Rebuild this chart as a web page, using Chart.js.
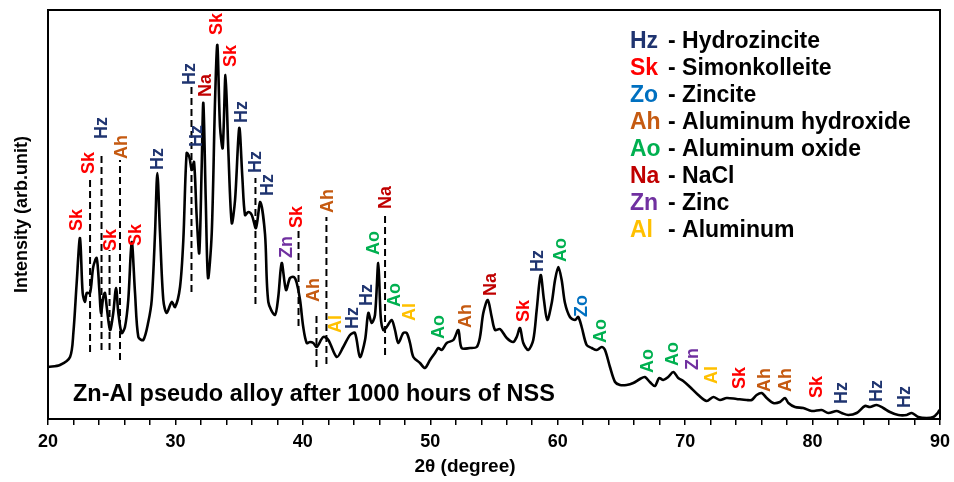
<!DOCTYPE html>
<html>
<head>
<meta charset="utf-8">
<script src="https://cdn.jsdelivr.net/npm/chart.js@4.4.1/dist/chart.umd.min.js"></script>
<style>
  html, body { margin: 0; padding: 0; background: #fff; }
  #wrap { width: 954px; height: 482px; }
</style>
</head>
<body>
<div id="wrap"><canvas id="xrdChart" width="954" height="482"></canvas></div>
<script>
// XRD pattern (2θ in degrees, intensity in arbitrary units)
var twoTheta = [
  20.02, 20.94, 21.73, 21.99, 22.25, 22.51, 22.72, 22.90, 23.04, 23.30,
  23.55, 23.82, 24.03, 24.16, 24.34, 24.47, 24.61, 24.87, 25.12, 25.34,
  25.52, 25.78, 26.04, 26.30, 26.57, 26.83, 27.09, 27.48, 27.87, 28.14,
  28.40, 28.58, 28.79, 29.05, 29.31, 29.71, 29.97, 30.36, 30.62, 30.88,
  31.09, 31.28, 31.46, 31.67, 31.87, 32.06, 32.19, 32.38, 32.56, 32.85,
  33.11, 33.29, 33.50, 33.71, 33.93, 34.15, 34.42, 34.68, 35.01, 35.25,
  35.46, 35.72, 35.99, 36.32, 36.66, 37.03, 37.29, 37.81, 38.07, 38.34,
  38.68, 38.99, 39.30, 39.52, 39.78, 40.03, 40.30, 40.56, 40.82, 41.09,
  41.60, 42.00, 42.66, 43.17, 43.70, 44.09, 44.48, 44.88, 45.14, 45.40,
  45.66, 45.92, 46.11, 46.31, 46.58, 46.97, 47.23, 47.49, 47.88, 48.15,
  48.41, 48.67, 49.19, 49.58, 49.98, 50.37, 50.63, 50.90, 51.29, 51.81,
  52.20, 52.46, 53.12, 53.64, 53.90, 54.16, 54.51, 54.82, 55.08, 55.47,
  56.00, 56.51, 56.78, 57.04, 57.30, 57.69, 58.08, 58.35, 58.66, 58.92,
  59.18, 59.53, 59.79, 60.05, 60.31, 60.57, 60.96, 61.36, 61.61, 61.88,
  62.27, 62.67, 63.06, 63.45, 63.71, 64.10, 64.50, 64.89, 65.41, 65.93,
  66.45, 66.84, 67.23, 67.63, 67.96, 68.28, 68.67, 69.07, 69.46, 69.85,
  70.38, 71.03, 71.69, 72.21, 72.73, 73.26, 74.04, 74.83, 75.22, 75.61,
  76.01, 76.40, 76.92, 77.44, 77.84, 78.10, 78.62, 79.27, 79.93, 80.71,
  81.23, 81.89, 82.28, 82.80, 83.46, 84.11, 84.50, 85.03, 85.55, 86.07,
  86.73, 87.39, 87.78, 88.30, 88.95, 89.48, 89.82, 89.95
];
var intensity = [
  52, 54, 62, 86, 136, 181, 126, 117, 126, 126,
  152, 161, 129, 106, 122, 126, 112, 89, 106, 131,
  106, 86, 92, 119, 177, 126, 82, 79, 97, 119,
  186, 246, 186, 119, 106, 117, 112, 132, 179, 266,
  262, 249, 257, 202, 166, 252, 316, 219, 141, 186,
  319, 374, 292, 271, 344, 269, 196, 219, 291, 242,
  204, 207, 204, 191, 217, 185, 117, 104, 122, 156,
  129, 141, 142, 136, 119, 92, 76, 77, 76, 72,
  82, 79, 62, 72, 84, 86, 62, 79, 106, 96,
  104, 156, 102, 89, 92, 99, 89, 76, 86, 86,
  76, 62, 56, 51, 59, 66, 71, 69, 76, 79,
  89, 71, 71, 72, 82, 106, 119, 102, 89, 90,
  81, 77, 82, 91, 76, 69, 79, 109, 144, 119,
  99, 116, 139, 152, 139, 116, 102, 99, 102, 92,
  74, 71, 69, 72, 69, 52, 37, 34, 34, 36,
  40, 42, 37, 33, 41, 39, 42, 47, 41, 38,
  32, 24, 18, 22, 19, 21, 20, 19, 19, 24,
  26, 21, 16, 17, 21, 16, 12, 11, 8, 9,
  6, 8, 6, 4, 6, 13, 12, 14, 11, 7,
  4, 4, 6, 2, 1, 2, 6, 9
];

// phase marks above the peaks (label, 2θ, height where the text starts)
var peakCodes = [
  'Sk', 'Sk', 'Hz', 'Ah', 'Sk', 'Sk', 'Hz', 'Hz', 'Hz', 'Na',
  'Sk', 'Sk', 'Hz', 'Hz', 'Hz', 'Zn', 'Sk', 'Ah', 'Ah', 'Al',
  'Hz', 'Hz', 'Ao', 'Na', 'Ao', 'Al', 'Ao', 'Ah', 'Na', 'Sk',
  'Hz', 'Ao', 'Zo', 'Ao', 'Ao', 'Ao', 'Zn', 'Al', 'Sk', 'Ah',
  'Ah', 'Sk', 'Hz', 'Hz', 'Hz'
];
var peakAngles = [
  22.25, 23.20, 24.21, 25.78, 24.92, 26.87, 28.66, 31.18, 31.67, 32.42,
  33.24, 34.36, 35.26, 36.32, 37.26, 38.76, 39.56, 40.85, 42.00, 42.64,
  43.91, 45.07, 45.58, 46.56, 47.23, 48.41, 50.68, 52.84, 54.80, 57.39,
  58.49, 60.26, 61.91, 63.40, 67.11, 69.02, 70.64, 72.08, 74.30, 76.27,
  77.91, 80.32, 82.28, 85.03, 87.25
];
var peakHeights = [
  188, 245, 280, 260, 168, 173, 249, 334, 272, 322,
  384, 352, 296, 246, 223, 161, 191, 117, 206, 86,
  90, 113, 164, 210, 112, 98, 80, 91, 123, 97,
  147, 157, 102, 76, 46, 53, 49, 35, 30, 27,
  27, 21, 15, 17, 11
];

// dashed guide lines (2θ, top, bottom)
var dashAngles  = [23.30, 24.20, 24.83, 25.65, 31.26, 36.28, 39.66, 41.07, 41.85, 46.45];
var dashTops    = [242, 267, 169, 259, 332, 241, 189, 107, 202, 206];
var dashBottoms = [67, 69, 69, 59, 127, 115, 93, 52, 55, 64];

var phaseCodes = ['Hz', 'Sk', 'Zo', 'Ah', 'Ao', 'Na', 'Zn', 'Al'];
var phaseNames = ['Hydrozincite', 'Simonkolleite', 'Zincite', 'Aluminum hydroxide',
                  'Aluminum oxide', 'NaCl', 'Zinc', 'Aluminum'];
var phaseColors = ['#1f3470', '#ff0000', '#0070c0', '#c55a11',
                   '#00b050', '#c00000', '#7030a0', '#ffc000'];

var sampleNote = 'Zn-Al pseudo alloy after 1000 hours of NSS';
var xTitle = '2θ (degree)';

var FONT = '"Liberation Sans", Arial, sans-serif';

function colorOf(code) {
  return phaseColors[phaseCodes.indexOf(code)];
}

var points = twoTheta.map(function(t, i) { return { x: t, y: intensity[i] }; });

var datasets = [{
  data: points,
  borderColor: '#000',
  borderWidth: 2.6,
  pointRadius: 0,
  tension: 0.3,
  fill: false
}];

for (var d = 0; d < dashAngles.length; d++) {
  datasets.push({
    data: [{ x: dashAngles[d], y: dashBottoms[d] }, { x: dashAngles[d], y: dashTops[d] }],
    borderColor: '#000',
    borderWidth: 2,
    borderDash: [7, 4],
    pointRadius: 0,
    fill: false
  });
}

var extrasPlugin = {
  id: 'extras',
  afterDatasetsDraw: function(chart) {
    var ctx = chart.ctx;
    var xs = chart.scales.x;
    var ys = chart.scales.y;
    var area = chart.chartArea;

    // peak marks, rotated
    ctx.save();
    ctx.font = 'bold 18px ' + FONT;
    ctx.textAlign = 'left';
    ctx.textBaseline = 'middle';
    for (var i = 0; i < peakCodes.length; i++) {
      var px = xs.getPixelForValue(peakAngles[i]);
      var py = ys.getPixelForValue(peakHeights[i]);
      ctx.save();
      ctx.translate(px, py);
      ctx.rotate(-Math.PI / 2);
      ctx.fillStyle = colorOf(peakCodes[i]);
      ctx.fillText(peakCodes[i], 0, 0);
      ctx.restore();
    }
    ctx.restore();

    // key of phases
    ctx.save();
    ctx.font = 'bold 23px ' + FONT;
    ctx.textBaseline = 'middle';
    ctx.textAlign = 'left';
    for (var k = 0; k < phaseCodes.length; k++) {
      var ly = 42 + k * 26.9;
      ctx.fillStyle = phaseColors[k];
      ctx.fillText(phaseCodes[k], 630, ly);
      ctx.fillStyle = '#000';
      ctx.fillText('- ' + phaseNames[k], 668, ly);
    }
    ctx.restore();

    // sample note
    ctx.save();
    ctx.font = 'bold 23.5px ' + FONT;
    ctx.textBaseline = 'middle';
    ctx.fillStyle = '#000';
    ctx.fillText(sampleNote, 73, 395);
    ctx.restore();

    // x axis title (sits left of centre in the original)
    ctx.save();
    ctx.font = 'bold 19px ' + FONT;
    ctx.textBaseline = 'middle';
    ctx.textAlign = 'center';
    ctx.fillStyle = '#000';
    ctx.fillText(xTitle, 465, 467);
    ctx.restore();

    // frame
    ctx.save();
    ctx.strokeStyle = '#000';
    ctx.lineWidth = 2;
    ctx.strokeRect(area.left, area.top, area.right - area.left, area.bottom - area.top);
    ctx.restore();
  }
};

new Chart(document.getElementById('xrdChart').getContext('2d'), {
  type: 'line',
  data: { datasets: datasets },
  options: {
    responsive: false,
    animation: false,
    devicePixelRatio: 1,
    layout: { padding: { top: 10, right: 14, left: 0, bottom: 0 } },
    plugins: {
      legend: { display: false },
      tooltip: { enabled: false }
    },
    scales: {
      x: {
        type: 'linear',
        min: 20,
        max: 90,
        afterFit: function(scale) {
          scale.height = 63;
          scale.paddingLeft = 0;
          scale.paddingRight = 0;
        },
        ticks: {
          stepSize: 2,
          autoSkip: false,
          maxRotation: 0,
          padding: 6,
          color: '#000',
          font: { family: FONT, size: 18, weight: 'bold' },
          callback: function(v) { return v % 10 === 0 ? v : ''; }
        },
        grid: {
          drawOnChartArea: false,
          drawTicks: true,
          tickLength: 6,
          color: '#000',
          lineWidth: 1.5
        },
        border: { display: true, color: '#000', width: 2 },
        title: { display: false }
      },
      y: {
        min: 0,
        max: 409,
        afterFit: function(scale) { scale.width = 48; },
        ticks: { display: false },
        grid: { display: false },
        border: { display: true, color: '#000', width: 2 },
        title: {
          display: true,
          text: 'Intensity (arb.unit)',
          color: '#000',
          font: { family: FONT, size: 18, weight: 'bold' },
          padding: { top: 11, bottom: 0 }
        }
      }
    }
  },
  plugins: [extrasPlugin]
});
</script>
</body>
</html>
